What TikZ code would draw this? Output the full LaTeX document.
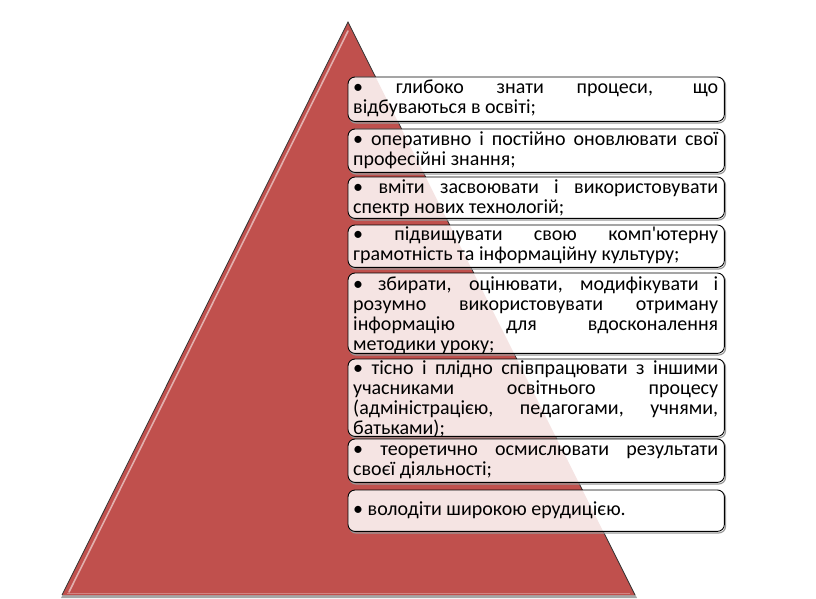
\documentclass[tikz,border=0pt]{standalone}
\usepackage{fontspec}
\setmainfont{Carlito}
\usetikzlibrary{calc}
\definecolor{pyrred}{HTML}{C0504D}
\definecolor{boxpink}{HTML}{F5E4E3}

\tikzset{
  box/.style={minimum width=376pt, anchor=north west, inner sep=0pt},
  boxshadow/.style={draw=black!40, line width=1.2pt, rounded corners=7pt},
  boxline/.style={draw=black, line width=0.9pt, rounded corners=7pt},
  txt/.style={anchor=north west, inner sep=0pt, text width=365pt, align=justify,
    font=\fontsize{20}{20}\selectfont},
}

\begin{document}
\begin{tikzpicture}[x=1pt,y=-1pt]
  \useasboundingbox (0,0) rectangle (816,599);
  % Pyramid
  \coordinate (apex) at (348,22);
  \coordinate (bl) at (62,595);
  \coordinate (br) at (635,595);
  \fill[black!35] ($(bl)+(-1,3)$) -- ($(apex)+(0,2)$) -- ($(br)+(2,3)$) -- cycle;
  \fill[pyrred] (bl) -- (apex) -- (br) -- cycle;
  \draw[black!80,line width=0.8pt] (bl) -- (apex) -- (br);
  \draw[white,opacity=0.55,line width=1.6pt,line cap=round] ($(apex)+(0,9)$) -- ($(bl)+(7,-3)$);
  \draw[white,opacity=0.3,line width=1pt] ($(bl)+(5,-2)$) -- ($(br)+(-5,-2)$);
  % Boxes
  \node[box, minimum height=44pt] (b1) at (348,77) {};
  \node[box, minimum height=43pt] (b2) at (348,129) {};
  \node[box, minimum height=41pt] (b3) at (348,177) {};
  \node[box, minimum height=42pt] (b4) at (348,225) {};
  \node[box, minimum height=80pt] (b5) at (348,273) {};
  \node[box, minimum height=77pt] (b6) at (348,359) {};
  \node[box, minimum height=43pt] (b7) at (348,439) {};
  \node[box, minimum height=41pt] (b8) at (348,490) {};
  \foreach \b in {b1,b2,b3,b4,b5,b6,b7,b8}
    \draw[boxshadow] ([shift={(1.2,1.6)}]\b.north west) rectangle ([shift={(1.2,1.6)}]\b.south east);
  \foreach \b in {b1,b2,b3,b4,b5,b6,b7,b8}
    \fill[white, rounded corners=7pt] (\b.north west) rectangle (\b.south east);
  % pyramid showing through the boxes
  \begin{scope}
    \clip (bl) -- (apex) -- (br) -- cycle;
    \foreach \b in {b1,b2,b3,b4,b5,b6,b7,b8}
      \fill[boxpink, rounded corners=7pt] (\b.north west) rectangle (\b.south east);
  \end{scope}
  \foreach \b in {b1,b2,b3,b4,b5,b6,b7,b8}
    \draw[boxline] (\b.north west) rectangle (\b.south east);
  % Texts
  \node[txt] (t1) at ($(b1.north west)+(5,2)$) {\strut• глибоко знати процеси, що\linebreak відбуваються в освіті;};
  \node[txt] (t2) at ($(b2.north west)+(5,2)$) {\strut• оперативно і постійно оновлювати свої\linebreak професійні знання;};
  \node[txt] (t3) at ($(b3.north west)+(5,2)$) {\strut• вміти засвоювати і використовувати\linebreak спектр нових технологій;};
  \node[txt] (t4) at ($(b4.north west)+(5,1)$) {\strut• підвищувати свою комп\textquotesingle ютерну\linebreak грамотність та інформаційну культуру;};
  \node[txt] (t5) at ($(b5.north west)+(5,3)$) {\strut• збирати, оцінювати, модифікувати і\linebreak розумно використовувати отриману\linebreak інформацію для вдосконалення\linebreak методики уроку;};
  \node[txt] (t6) at ($(b6.north west)+(5,1)$) {\strut• тісно і плідно співпрацювати з іншими\linebreak учасниками освітнього процесу\linebreak (адміністрацією, педагогами, учнями,\linebreak батьками);};
  \node[txt] (t7) at ($(b7.north west)+(5,2)$) {\strut• теоретично осмислювати результати\linebreak своєї діяльності;};
  \node[txt] (t8) at ($(b8.north west)+(5,11)$) {\strut• володіти широкою ерудицією.};
\end{tikzpicture}
\end{document}
